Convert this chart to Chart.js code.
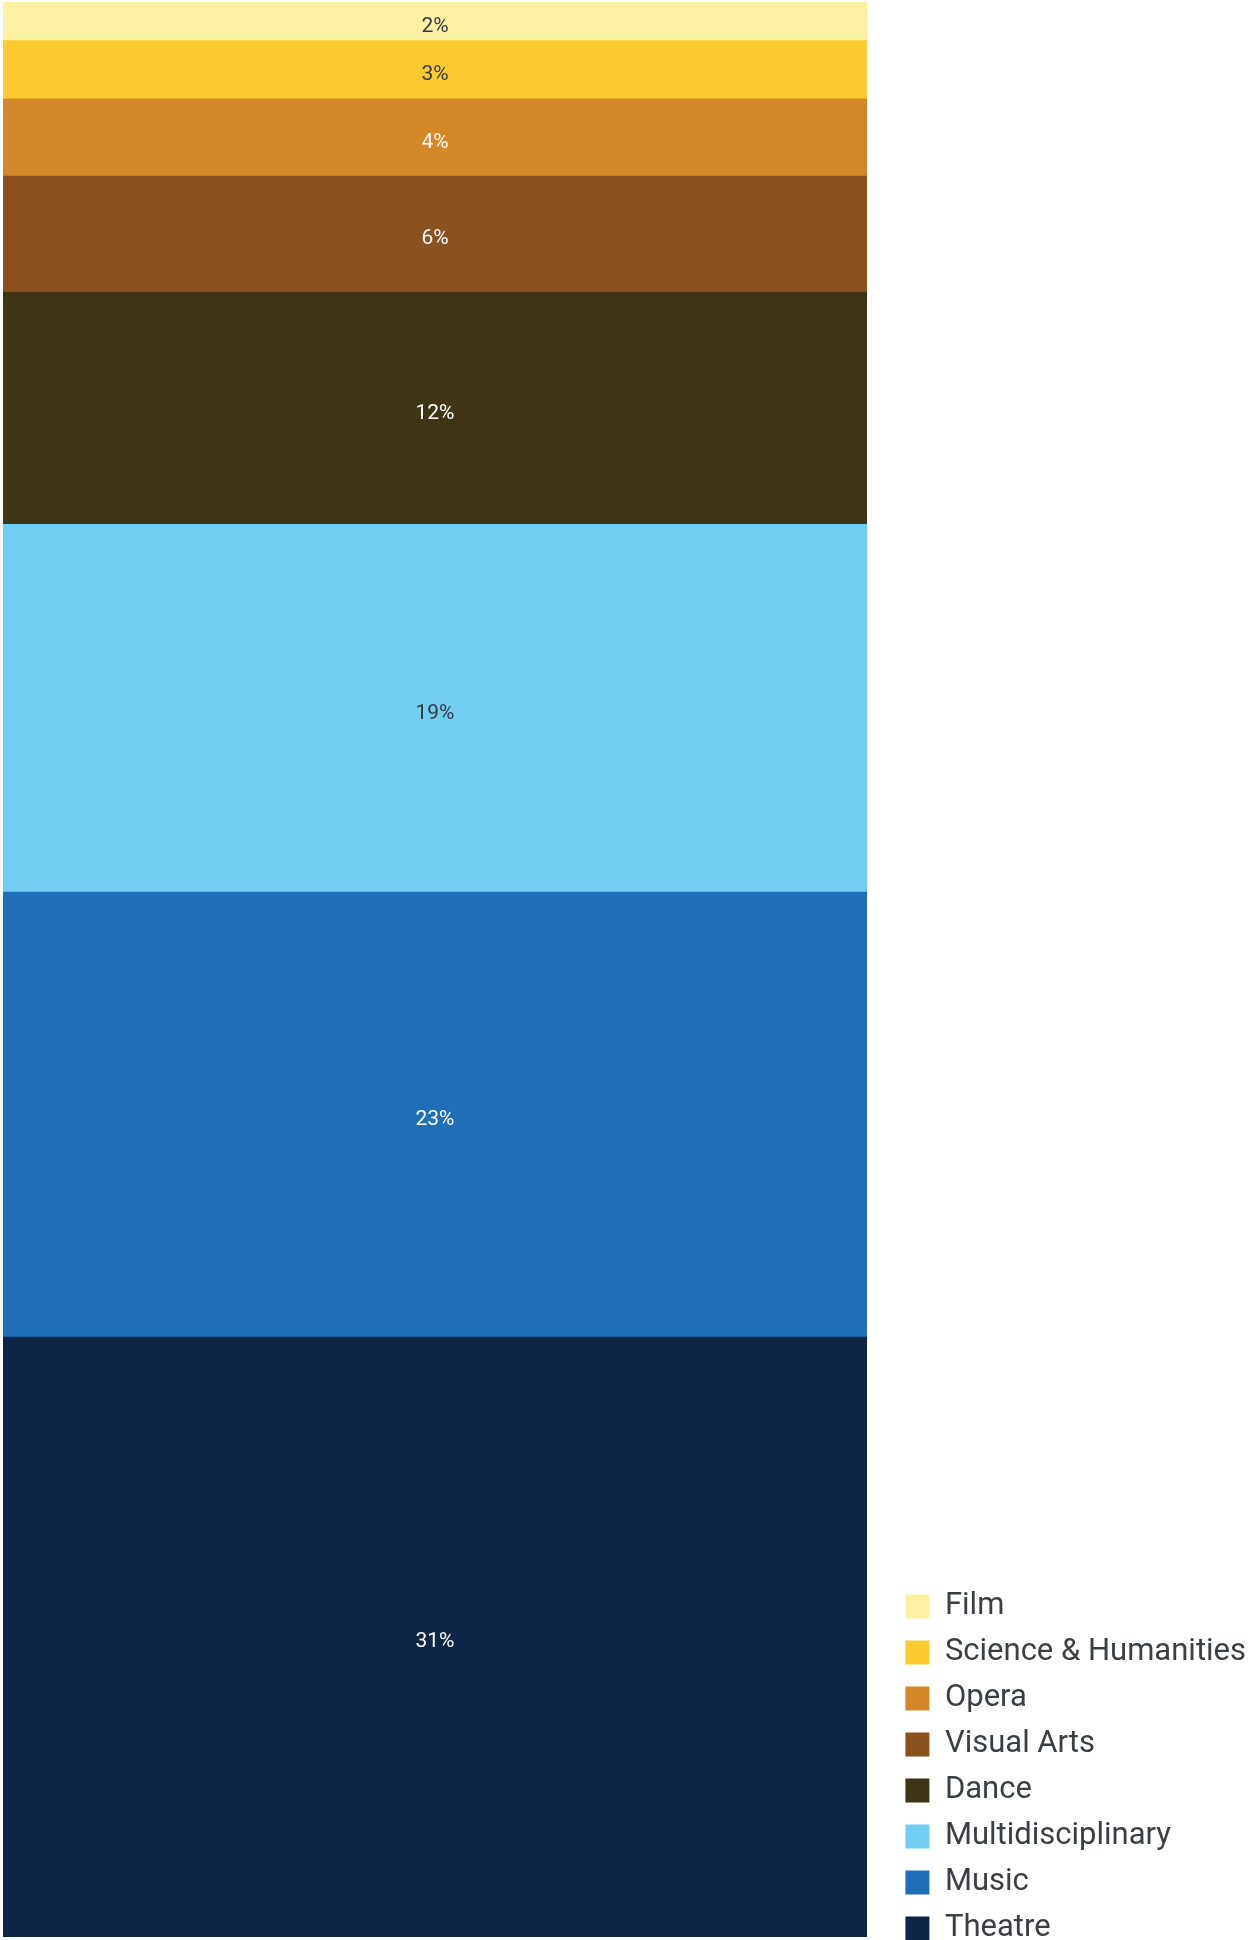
<!DOCTYPE html>
<html>
<head>
<meta charset="utf-8">
<title>Share by discipline</title>
<script src="https://cdn.jsdelivr.net/npm/chart.js@4"></script>
<style>
  html, body { margin: 0; padding: 0; background: #fff; height: 1940px; overflow: hidden; }
  #wrap { width: 1256px; height: 1959px; }
</style>
</head>
<body>
<div id="wrap"><canvas id="share-chart" width="1256" height="1959"></canvas></div>
<script>
// stacked bottom-up: Theatre sits at the base, Film on top
const CATEGORIES = ["Theatre", "Music", "Multidisciplinary", "Dance", "Visual Arts", "Opera", "Science & Humanities", "Film"];
const SHARES = [31, 23, 19, 12, 6, 4, 3, 2];

const FILLS = ["#0d2547", "#1e6fb8", "#72cef3", "#3e3416", "#8b5220", "#d5882a", "#fdca30", "#fbf1a3"];
const INK = ["#ffffff", "#ffffff", "#353a40", "#ffffff", "#ffffff", "#ffffff", "#353a40", "#353a40"];

const PLOT_RIGHT = 867; // where the bar stops, legend sits to the right

// percentage text in the middle of each segment
const segmentLabels = {
  id: "segmentLabels",
  afterDatasetsDraw(chart) {
    const ctx = chart.ctx;
    ctx.save();
    ctx.font = "21px Roboto";
    ctx.textAlign = "center";
    ctx.textBaseline = "middle";
    chart.data.datasets.forEach(function (ds, i) {
      chart.getDatasetMeta(i).data.forEach(function (bar, j) {
        const p = bar.getProps(["x", "y", "base"], true);
        ctx.fillStyle = INK[i];
        // nudge down a little so the digits look centred
        ctx.fillText(ds.data[j] + "%", p.x, (p.y + p.base) / 2 + 5);
      });
    });
    ctx.restore();
  },
};

new Chart(document.getElementById("share-chart"), {
  type: "bar",
  data: {
    labels: [""],
    datasets: CATEGORIES.map(function (name, i) {
      return {
        label: name,
        data: [SHARES[i]],
        backgroundColor: FILLS[i],
        borderWidth: 0,
        categoryPercentage: 1,
        barPercentage: 1,
      };
    }),
  },
  options: {
    responsive: false,
    animation: false,
    devicePixelRatio: 1,
    layout: { padding: { left: 3, top: 2, right: 0, bottom: 0 } },
    scales: {
      x: {
        stacked: true,
        ticks: { display: false },
        grid: { display: false },
        border: { display: false },
        afterFit: function (s) { s.height = 22; },
      },
      y: { stacked: true, display: false, min: 0, max: 100 },
      // empty right axis used only as a gap between bar and legend
      gap: {
        position: "right",
        ticks: { display: false },
        grid: { display: false },
        border: { display: false },
        afterFit: function (s) {
          s.width = Math.max(0, s.chart.width - PLOT_RIGHT - s.chart.legend.width);
        },
      },
    },
    plugins: {
      tooltip: { enabled: false },
      legend: {
        position: "right",
        align: "end",
        reverse: true,
        maxWidth: 460,
        labels: {
          boxWidth: 24,
          boxHeight: 24,
          padding: 15,
          color: "#3a3f44",
          font: { family: "Roboto", size: 31 },
        },
      },
    },
  },
  plugins: [segmentLabels],
});
</script>
</body>
</html>
